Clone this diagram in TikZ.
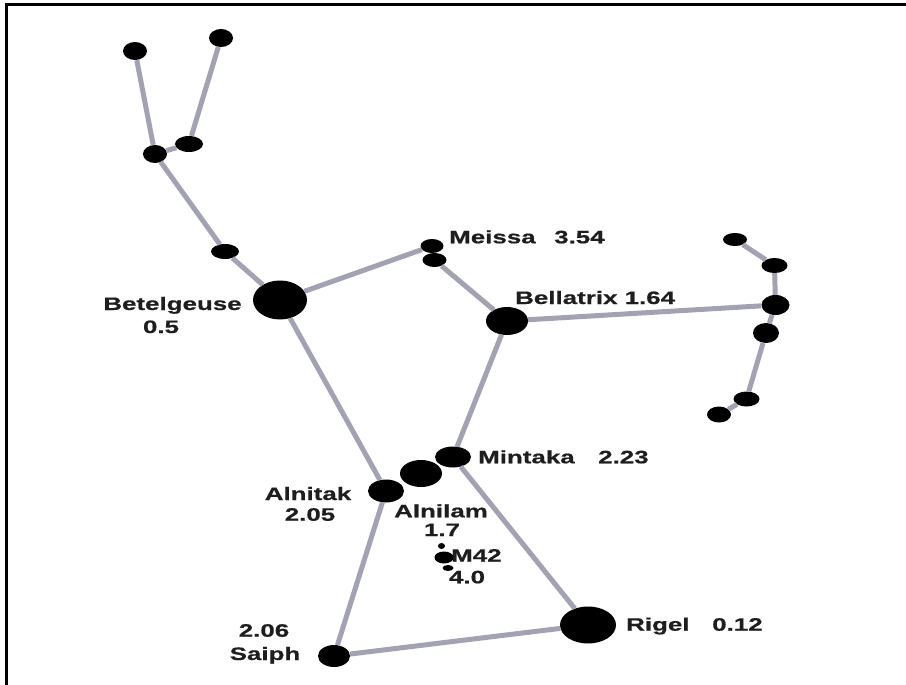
\documentclass[tikz,border=0pt]{standalone}
\usepackage{fontspec}
\setmainfont{Liberation Sans}
\newfontfamily\labfont[FakeStretch=1.44,FakeBold=0.6]{Liberation Sans}
\usetikzlibrary{shapes.geometric}
\definecolor{linkgray}{RGB}{162,162,178}
\definecolor{inkgray}{RGB}{30,30,30}
\tikzset{
  starnode/.style={ellipse, fill=black, draw=none, inner sep=0pt},
  link/.style={draw=linkgray, line width=5pt},
  lab/.style={inner sep=0pt, text=inkgray, font=\labfont\bfseries\fontsize{18}{20}\selectfont},
  frame/.style={draw=black, line width=3pt}
}
\begin{document}
\begin{tikzpicture}[x=1pt, y=-1pt]
\useasboundingbox (0,0) rectangle (906,685);
\fill[white] (0,0) rectangle (906,685);
% frame (top and left)
\coordinate (fTR) at (906,5);
\coordinate (fTL) at (6,5);
\coordinate (fBL) at (6,685);
\draw[frame] (fTR) -- (fTL) -- (fBL);

% stars
\node[starnode, minimum width=24pt, minimum height=18pt] (A) at (135,51) {};
\node[starnode, minimum width=24pt, minimum height=18pt] (B) at (221,38) {};
\node[starnode, minimum width=24pt, minimum height=18pt] (C) at (155,154) {};
\node[starnode, minimum width=28pt, minimum height=16pt] (D) at (189,144) {};
\node[starnode, minimum width=28pt, minimum height=15pt] (E) at (225,251.5) {};
\node[starnode, minimum width=54pt, minimum height=39pt] (bet) at (280,300) {};
\node[starnode, minimum width=23pt, minimum height=14pt] (meiA) at (432,246) {};
\node[starnode, minimum width=24pt, minimum height=14pt] (meiB) at (434.5,260) {};
\node[starnode, minimum width=42pt, minimum height=28pt] (bel) at (507,321) {};
\node[starnode, minimum width=24pt, minimum height=13pt] (r1) at (735,239.5) {};
\node[starnode, minimum width=26pt, minimum height=15pt] (r2) at (774.5,265.5) {};
\node[starnode, minimum width=28pt, minimum height=20pt] (r3) at (775.5,305) {};
\node[starnode, minimum width=26pt, minimum height=20pt] (r4) at (766,333) {};
\node[starnode, minimum width=26pt, minimum height=15pt] (r5) at (746.5,399) {};
\node[starnode, minimum width=24pt, minimum height=16pt] (r6) at (719,414.5) {};
\node[starnode, minimum width=36pt, minimum height=21pt] (min) at (453,457) {};
\node[starnode, minimum width=42pt, minimum height=27pt] (aln) at (421,473.5) {};
\node[starnode, minimum width=36pt, minimum height=23pt] (alt) at (386,491) {};
\node[starnode, minimum width=19pt, minimum height=12pt] (m42) at (444,557.5) {};
\node[starnode, minimum width=7pt, minimum height=6pt] (m42a) at (441.5,546) {};
\node[starnode, minimum width=11pt, minimum height=6pt] (m42b) at (448,568) {};
\node[starnode, minimum width=32pt, minimum height=22pt] (sai) at (334,656) {};
\node[starnode, minimum width=56pt, minimum height=37pt] (rig) at (588,625) {};

% connectors
\draw[link] (A) -- (C);
\draw[link] (B) -- (D);
\draw[link] (C) -- (D);
\draw[link] (C) -- (E);
\draw[link] (E) -- (bet);
\draw[link] (bet) -- (meiA);
\draw[link] (meiB) -- (bel);
\draw[link] (bet) -- (alt);
\draw[link] (bel) -- (min);
\draw[link] (bel) -- (r3);
\draw[link] (r1) -- (r2);
\draw[link] (r2) -- (r3);
\draw[link] (r3) -- (r4);
\draw[link] (r4) -- (r5);
\draw[link] (r5) -- (r6);
\draw[link] (min) -- (rig);
\draw[link] (alt) -- (sai);
\draw[link] (sai) -- (rig);

% labels
\node[lab, anchor=base] (tBet) at (172.5,310) {Betelgeuse};
\node[lab, anchor=base] (tBetM) at (161,333) {0.5};
\node[lab, anchor=base west] (tMei) at (449,243.3) {Meissa};
\node[lab, anchor=base west] (tMeiM) at (554,243.3) {3.54};
\node[lab, anchor=base west] (tBel) at (515,304) {Bellatrix 1.64};
\node[lab, anchor=base west] (tMin) at (478,463.3) {Mintaka};
\node[lab, anchor=base west] (tMinM) at (598,463.3) {2.23};
\node[lab, anchor=base] (tAlt) at (308,500) {Alnitak};
\node[lab, anchor=base] (tAltM) at (310,520.7) {2.05};
\node[lab, anchor=base] (tAln) at (441,517.3) {Alnilam};
\node[lab, anchor=base] (tAlnM) at (442,536) {1.7};
\node[lab, anchor=base west] (tM42) at (451,561.7) {M42};
\node[lab, anchor=base] (tM42M) at (467,583.3) {4.0};
\node[lab, anchor=base] (tSaiM) at (264,636.7) {2.06};
\node[lab, anchor=base] (tSai) at (265,660) {Saiph};
\node[lab, anchor=base west] (tRig) at (626,630.7) {Rigel};
\node[lab, anchor=base west] (tRigM) at (712,630.7) {0.12};
\end{tikzpicture}
\end{document}
